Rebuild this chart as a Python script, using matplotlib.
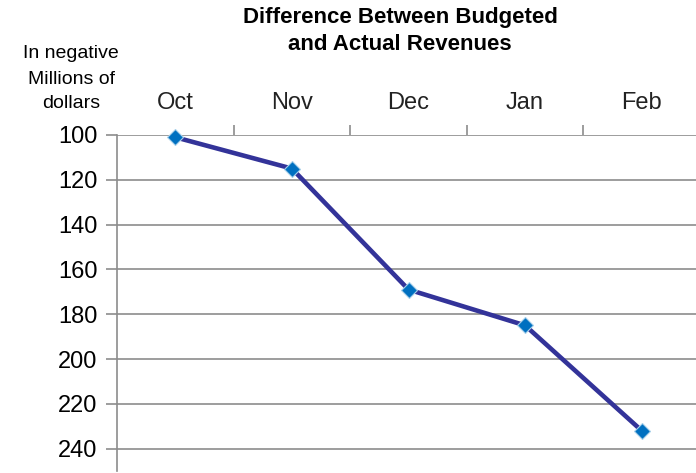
"""
Difference between budgeted and actual revenues, inverted line chart
"""
import matplotlib
matplotlib.use("Agg")
import matplotlib.pyplot as plt

months = ["Oct", "Nov", "Dec", "Jan", "Feb"]
shortfall = [101, 115, 169, 185, 232]
y_ticks = [100, 120, 140, 160, 180, 200, 220, 240]

plt.rcParams['font.family'] = ['Liberation Sans', 'DejaVu Sans']

fig = plt.figure(figsize=(6.96, 4.73), dpi=100)
ax = fig.add_axes([117 / 696, (473 - 471) / 473, (700 - 117) / 696, (471 - 135) / 473])

x = list(range(len(months)))
ax.plot(x, shortfall, color="#333399", linewidth=3.3, zorder=3, clip_on=False)
ax.plot(x, shortfall, linestyle="none", marker="D", markersize=8.5,
        markerfacecolor="#0070C0", markeredgecolor="#a8d0ea",
        markeredgewidth=0.8, zorder=4, clip_on=False)

ax.set_xlim(-0.5, len(months) - 0.5)
ax.set_ylim(250, 100)
ax.set_yticks(y_ticks)
ax.set_yticklabels([str(v) for v in y_ticks], fontsize=17)
ax.yaxis.grid(True, color="#8c8c8c", linewidth=1.2)
ax.set_axisbelow(True)

# month labels along the top, ticks on category boundaries
ax.xaxis.tick_top()
ax.set_xticks([i + 0.5 for i in x[:-1]])
ax.set_xticklabels([])
ax.set_xticks(x, minor=True)
ax.set_xticklabels(months, minor=True, fontsize=17, color="#222222")
ax.tick_params(axis="x", which="minor", length=0, pad=15)
ax.tick_params(axis="x", which="major", length=7, color="#8c8c8c", width=1.2)
ax.tick_params(axis="y", length=8, color="#8c8c8c", width=1.2, pad=6)

for s in ["right", "bottom"]:
    ax.spines[s].set_visible(False)
ax.spines["top"].set_visible(False)
ax.spines["left"].set_color("#8c8c8c")
ax.spines["left"].set_linewidth(1.2)

fig.text(400 / 696, 1 - 17 / 473, "Difference Between Budgeted", ha="center",
         va="center", fontsize=16, fontweight="bold")
fig.text(400 / 696, 1 - 45 / 473, "and Actual Revenues", ha="center",
         va="center", fontsize=16, fontweight="bold")

fig.text(71 / 696, 1 - 54 / 473, "In negative", ha="center", va="center", fontsize=14)
fig.text(71 / 696, 1 - 79 / 473, "Millions of", ha="center", va="center", fontsize=14)
fig.text(71 / 696, 1 - 103 / 473, "dollars", ha="center", va="center", fontsize=14)

fig.savefig("out.png", dpi=100)
